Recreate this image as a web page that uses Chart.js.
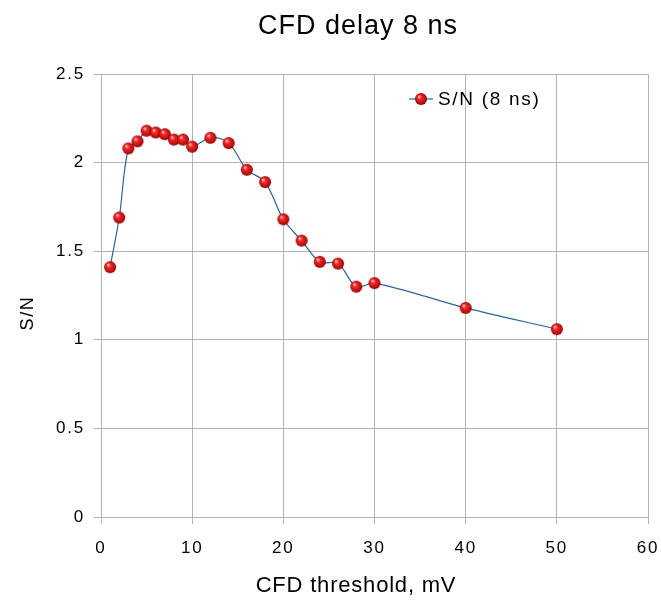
<!DOCTYPE html>
<html>
<head>
<meta charset="utf-8">
<script src="https://cdn.jsdelivr.net/npm/chart.js@4.4.1/dist/chart.umd.min.js"></script>
<style>
  html, body { margin: 0; padding: 0; background: #fff; }
  #wrap { width: 661px; height: 600px; }
</style>
</head>
<body>
<div id="wrap"><canvas id="myChart"></canvas></div>
<script>
// Datos
const thresholds = [1, 2, 3, 4, 5, 6, 7, 8, 9, 10, 12, 14, 16, 18, 20, 22, 24, 26, 28, 30, 40, 50];
const snValues = [1.41, 1.69, 2.08, 2.12, 2.18, 2.17, 2.16, 2.13, 2.13, 2.09, 2.14, 2.11,
                  1.96, 1.89, 1.68, 1.56, 1.44, 1.43, 1.30, 1.32, 1.18, 1.06];
const xTicks = [0, 10, 20, 30, 40, 50, 60];
const yTicks = [0, 0.5, 1, 1.5, 2, 2.5];
const seriesLabel = 'S/N (8 ns)';
const chartTitle = 'CFD delay 8 ns';
const xTitle = 'CFD threshold, mV';
const yTitle = 'S/N';

const FONT = 'Liberation Sans, Arial, sans-serif';
const LINE_COLOR = '#2b64a0';

// Espaciado de letras parecido al original (según tamaño de fuente)
const spacingBySize = { 17: '1.8px', 18: '1.6px', 19: '1.7px', 22: '0.8px', 27: '1px' };

// Esfera roja para los puntos
function makeBall(r) {
    const c = document.createElement('canvas');
    c.width = r * 2 + 2;
    c.height = r * 2 + 2;
    const g = c.getContext('2d');
    const cx = r + 1, cy = r + 1;
    const grad = g.createRadialGradient(cx - r * 0.35, cy - r * 0.4, r * 0.1, cx, cy, r);
    grad.addColorStop(0, '#ffb0b0');
    grad.addColorStop(0.3, '#ee2a2a');
    grad.addColorStop(0.8, '#c00c0c');
    grad.addColorStop(1, '#7a0000');
    g.fillStyle = grad;
    g.beginPath();
    g.arc(cx, cy, r, 0, Math.PI * 2);
    g.fill();
    return c;
}
const ball = makeBall(6);

const ctx = document.getElementById('myChart').getContext('2d');

// Ajustar letterSpacing antes de cada texto
const origFillText = ctx.fillText;
ctx.fillText = function (text, x, y, maxWidth) {
    const m = /(\d+(?:\.\d+)?)px/.exec(this.font);
    const size = m ? Math.round(parseFloat(m[1])) : 0;
    if ('letterSpacing' in this) this.letterSpacing = spacingBySize[size] || '0px';
    return maxWidth === undefined
        ? origFillText.call(this, text, x, y)
        : origFillText.call(this, text, x, y, maxWidth);
};

// Títulos y leyenda dibujados a mano (posiciones como en el original)
const extraText = {
    id: 'extraText',
    afterDraw(chart) {
        const c = chart.ctx;
        c.save();
        c.fillStyle = '#000';
        c.textBaseline = 'middle';
        c.textAlign = 'center';

        c.font = '27px ' + FONT;
        c.fillText(chartTitle, 358, 27);

        c.font = '22px ' + FONT;
        c.fillText(xTitle, 356, 586);

        c.save();
        c.translate(28, 313);
        c.rotate(-Math.PI / 2);
        c.font = '18px ' + FONT;
        c.fillText(yTitle, 0, 0);
        c.restore();

        // leyenda
        const x = 409, y = 99;
        c.strokeStyle = LINE_COLOR;
        c.lineWidth = 1.2;
        c.beginPath();
        c.moveTo(x, y);
        c.lineTo(x + 24, y);
        c.stroke();
        c.drawImage(ball, x + 12 - ball.width / 2, y - ball.height / 2);
        c.font = '19px ' + FONT;
        c.textAlign = 'left';
        c.fillText(seriesLabel, x + 29, y + 1);
        c.restore();
    }
};

const chart = new Chart(ctx, {
    type: 'line',
    data: {
        datasets: [{
            label: seriesLabel,
            data: thresholds.map((t, i) => ({ x: t, y: snValues[i] })),
            borderColor: LINE_COLOR,
            borderWidth: 1.2,
            tension: 0.35,
            pointStyle: ball,
            pointRadius: 6,
            pointHoverRadius: 6,
            fill: false
        }]
    },
    options: {
        responsive: true,
        maintainAspectRatio: false,
        animation: false,
        layout: { padding: { left: 0, right: 13, top: 74, bottom: 0 } },
        plugins: {
            legend: { display: false },
            tooltip: { enabled: false },
            title: { display: false }
        },
        scales: {
            x: {
                type: 'linear',
                min: 0,
                max: 60,
                afterBuildTicks: axis => { axis.ticks = xTicks.map(v => ({ value: v })); },
                afterFit: axis => { axis.height = 83; axis.paddingLeft = 0; axis.paddingRight = 0; },
                grid: { color: '#b3b3b3', tickLength: 7, lineWidth: 1 },
                border: { color: '#b3b3b3' },
                ticks: { color: '#000', font: { family: FONT, size: 17 }, padding: 14 }
            },
            y: {
                type: 'linear',
                min: 0,
                max: 2.5,
                afterBuildTicks: axis => { axis.ticks = yTicks.map(v => ({ value: v })); },
                afterFit: axis => { axis.width = 101; axis.paddingTop = 0; axis.paddingBottom = 0; },
                grid: { color: '#b3b3b3', tickLength: 7, lineWidth: 1 },
                border: { color: '#b3b3b3' },
                ticks: {
                    color: '#000',
                    font: { family: FONT, size: 17 },
                    padding: 9,
                    callback: v => String(v)
                }
            }
        }
    },
    plugins: [extraText]
});
</script>
</body>
</html>
